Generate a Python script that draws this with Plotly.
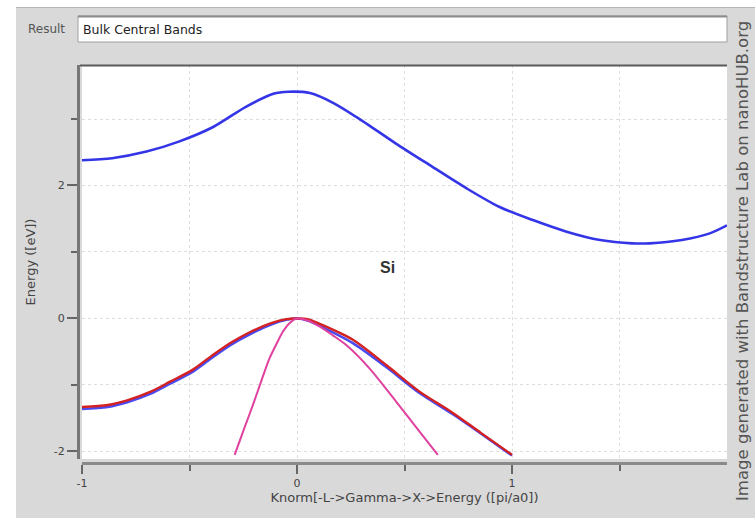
import plotly.graph_objects as go

# ---------------- data ----------------
k_cond = [-1.0, -0.86, -0.70, -0.55, -0.39, -0.24, -0.11, -0.04, 0.06, 0.17, 0.30,
          0.46, 0.63, 0.787, 0.94, 1.097, 1.25, 1.41, 1.56, 1.64, 1.79, 1.92, 2.0]
e_cond = [2.38, 2.41, 2.51, 2.66, 2.88, 3.18, 3.38, 3.41, 3.39, 3.24, 2.98,
          2.63, 2.28, 1.96, 1.68, 1.48, 1.31, 1.18, 1.13, 1.13, 1.18, 1.28, 1.40]

k_val = [-1.0, -0.88, -0.79, -0.68, -0.59, -0.49, -0.40, -0.31, -0.215, -0.12, -0.05,
         0.0, 0.05, 0.105, 0.26, 0.415, 0.57, 0.725, 0.855, 1.0]
e_val_red = [-1.33, -1.30, -1.23, -1.10, -0.95, -0.78, -0.57, -0.37, -0.20, -0.07, -0.01,
             0.0, -0.01, -0.08, -0.32, -0.70, -1.10, -1.42, -1.72, -2.05]
e_val_blue = [-1.36, -1.33, -1.26, -1.13, -0.98, -0.81, -0.60, -0.40, -0.23, -0.09, -0.02,
              0.0, -0.03, -0.11, -0.37, -0.73, -1.12, -1.44, -1.73, -2.06]

k_para = [-0.29, -0.245, -0.205, -0.165, -0.128, -0.095, -0.066, -0.035, 0.0, 0.05,
          0.105, 0.165, 0.229, 0.337, 0.461, 0.57, 0.655]
e_para = [-2.05, -1.65, -1.30, -0.93, -0.60, -0.38, -0.20, -0.07, 0.0, -0.03,
          -0.12, -0.25, -0.40, -0.75, -1.25, -1.70, -2.05]

x_major = [-1, 0, 1]
x_minor = [-0.5, 0.5, 1.5]
y_major = [-2, 0, 2]
y_minor = [-1, 1, 3]

title_text = "Bulk Central Bands"
material = "Si"
x_title = "Knorm[-L->Gamma->X->Energy ([pi/a0])"
y_title = "Energy ([eV])"
credit = "Image generated with Bandstructure Lab on nanoHUB.org"

# ---------------- layout geometry ----------------
W, H = 755, 518
ML, MR, MT, MB = 78, 28, 65, 55
PW, PH = W - ML - MR, H - MT - MB


def px(x):
    return (x - ML) / PW


def py(y):
    return (H - MB - y) / PH


BG = "#d9d9d9"
TXT = "#444444"
FONT = "DejaVu Sans, Verdana, sans-serif"

fig = go.Figure()
fig.add_trace(go.Scatter(x=k_cond, y=e_cond, mode="lines",
                         line=dict(color="#3535e8", width=2.6, shape="spline", smoothing=0.8),
                         hoverinfo="skip"))
fig.add_trace(go.Scatter(x=k_val, y=e_val_blue, mode="lines",
                         line=dict(color="#4a4af0", width=2.6, shape="spline", smoothing=0.8),
                         hoverinfo="skip"))
fig.add_trace(go.Scatter(x=k_val, y=e_val_red, mode="lines",
                         line=dict(color="#d42222", width=2.4, shape="spline", smoothing=0.8),
                         hoverinfo="skip"))
fig.add_trace(go.Scatter(x=k_para, y=e_para, mode="lines",
                         line=dict(color="#e0409e", width=2.0, shape="spline", smoothing=0.8),
                         hoverinfo="skip"))

grid = dict(showgrid=True, gridcolor="#dedede", griddash="dot", gridwidth=1)

fig.update_layout(
    width=W, height=H,
    margin=dict(l=ML, r=MR, t=MT, b=MB, pad=0, autoexpand=False),
    paper_bgcolor=BG, plot_bgcolor="white",
    showlegend=False,
    font=dict(family=FONT, size=12, color=TXT),
    xaxis=dict(range=[-1, 2], domain=[4 / PW, 1], anchor="free", position=0,
               tickvals=x_major, ticktext=[str(v) for v in x_major],
               ticks="outside", ticklen=9, tickwidth=2, tickcolor="#666",
               showline=True, linecolor="#8a8a8a", linewidth=3,
               zeroline=False, tickfont=dict(size=11, color=TXT),
               minor=dict(tickvals=x_minor, ticks="outside", ticklen=6, tickwidth=2,
                          tickcolor="#666", **grid),
               title=dict(text=x_title, font=dict(size=13, color=TXT), standoff=3),
               automargin=False,
               **grid),
    yaxis=dict(range=[-2.113, 3.812], domain=[4 / PH, 1], anchor="free", position=0,
               tickvals=y_major, ticktext=[str(v) for v in y_major],
               ticks="outside", ticklen=10, tickwidth=2, tickcolor="#666",
               showline=True, linecolor="#777", linewidth=3,
               zeroline=False, tickfont=dict(size=11, color=TXT),
               minor=dict(tickvals=y_minor, ticks="outside", ticklen=6, tickwidth=2,
                          tickcolor="#666", **grid),
               title=dict(text=y_title, font=dict(size=13, color=TXT), standoff=14),
               automargin=False,
               **grid),
)

shapes = [
    # white outer margins of the screenshot
    dict(type="rect", xref="paper", yref="paper", x0=px(0), x1=px(W), y0=py(7), y1=py(0),
         fillcolor="white", line=dict(width=0), layer="below"),
    dict(type="rect", xref="paper", yref="paper", x0=px(0), x1=px(16), y0=py(H), y1=py(0),
         fillcolor="white", line=dict(width=0), layer="below"),
    dict(type="line", xref="paper", yref="paper", x0=px(16), x1=px(W), y0=py(7.5), y1=py(7.5),
         line=dict(color="#b5b5b5", width=1)),
    # result text box
    dict(type="rect", xref="paper", yref="paper", x0=px(78), x1=px(727), y0=py(42), y1=py(16),
         fillcolor="white", line=dict(color="#a0a0a0", width=1)),
    dict(type="line", xref="paper", yref="paper", x0=px(78), x1=px(727), y0=py(16.5), y1=py(16.5),
         line=dict(color="#8c8c8c", width=2)),
    # plot frame top
    dict(type="line", xref="paper", yref="paper", x0=px(80), x1=px(727), y0=py(65.5), y1=py(65.5),
         line=dict(color="#5a5a5a", width=2)),
]
fig.update_layout(shapes=shapes)

annotations = [
    dict(text="Result", x=px(26), y=py(29), xref="paper", yref="paper",
         xanchor="left", yanchor="middle", showarrow=False,
         font=dict(size=12, color="#555", family=FONT)),
    dict(text=title_text, x=px(81), y=py(29), xref="paper", yref="paper",
         xanchor="left", yanchor="middle", showarrow=False,
         font=dict(size=12.5, color="#222", family=FONT)),
    dict(text="<b>" + material + "</b>", x=0.42, y=0.76, xref="x", yref="y",
         showarrow=False, font=dict(size=16, color="#333", family="Liberation Sans, Arial, sans-serif")),
    dict(text=credit, x=px(742), y=py(19), xref="paper", yref="paper",
         xanchor="center", yanchor="top", textangle=-90, showarrow=False,
         font=dict(size=16.5, color="#555", family="DejaVu Sans, sans-serif")),
]
fig.update_layout(annotations=annotations)

fig.write_html("out.html", config=dict(displayModeBar=False),
               post_script="document.body.style.margin='0px';document.body.style.overflow='hidden';")
